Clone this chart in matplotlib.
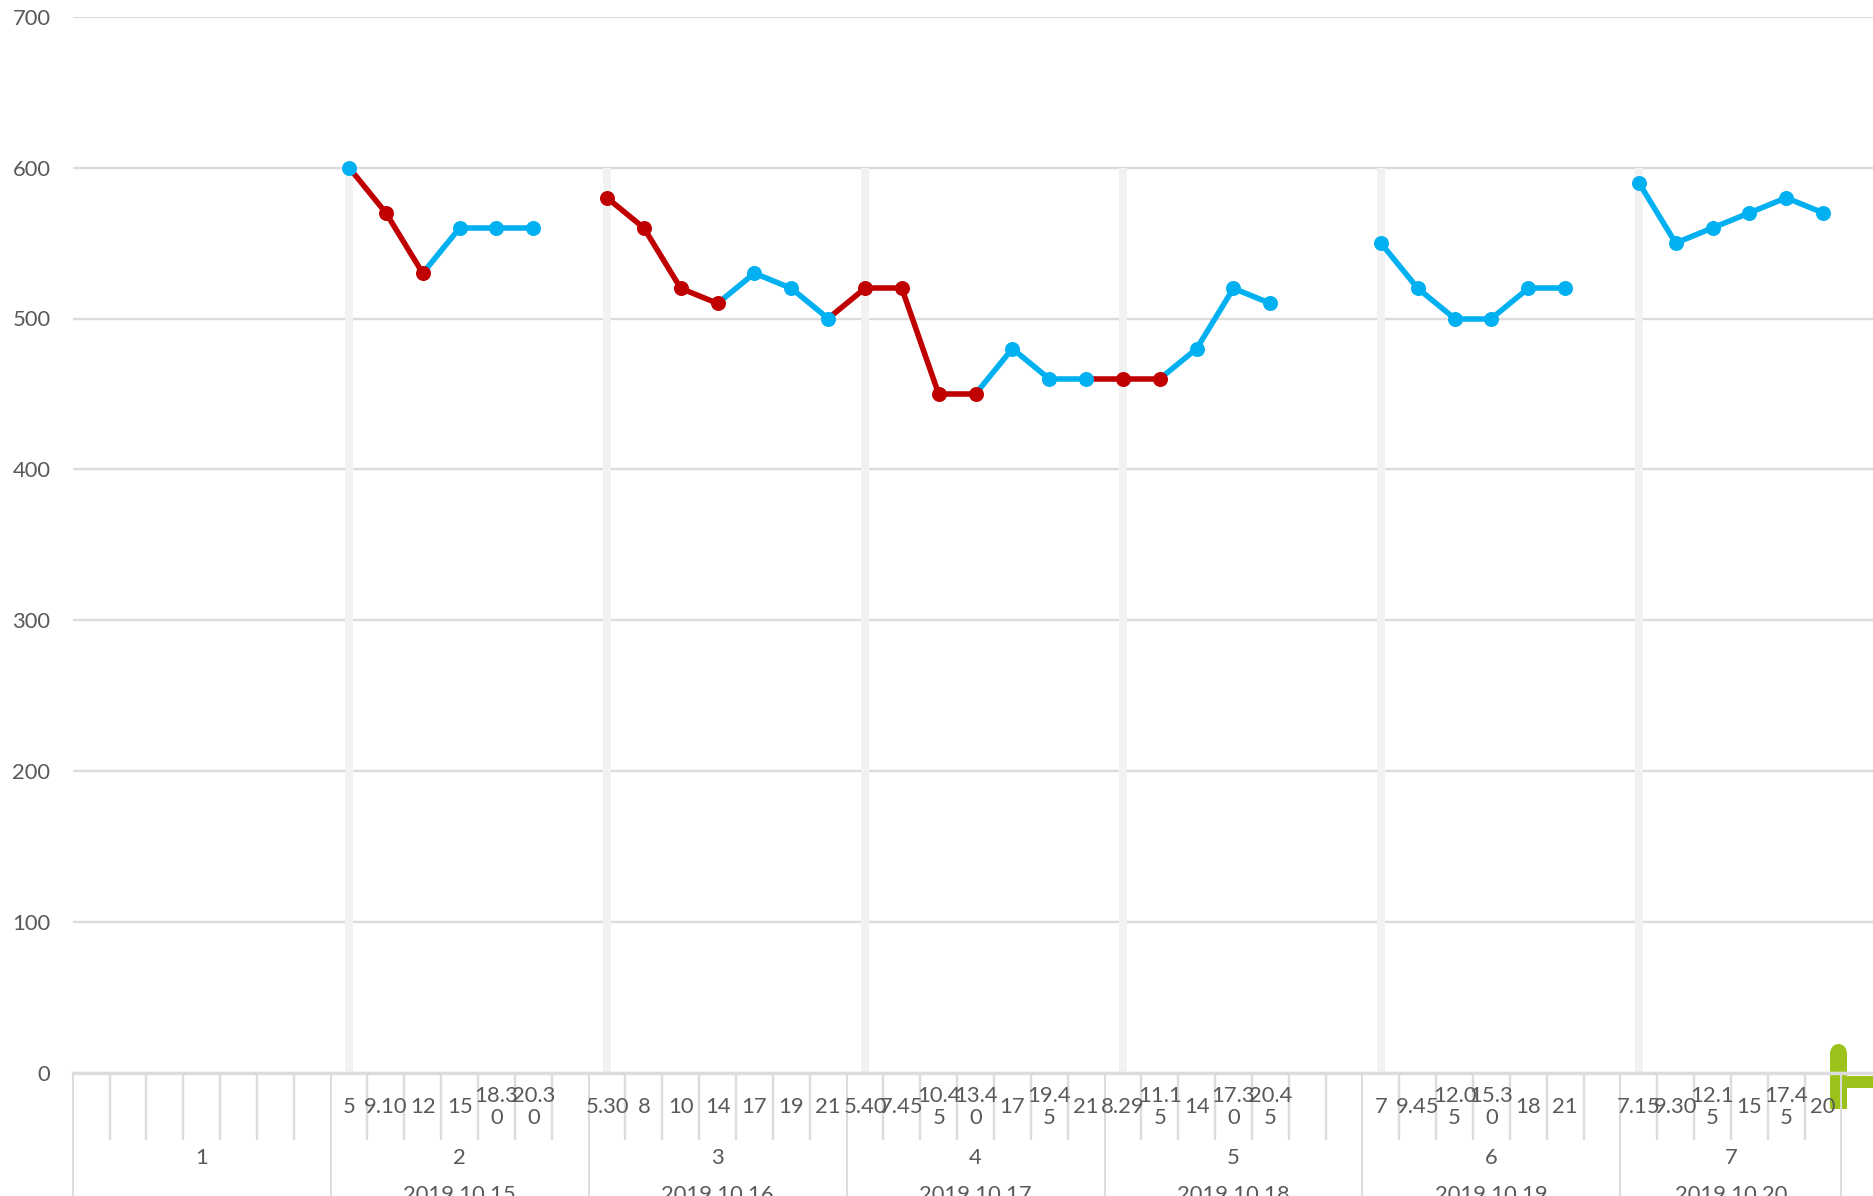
import matplotlib
matplotlib.use("Agg")
import matplotlib.pyplot as plt
import numpy as np
from matplotlib.patches import Circle, Rectangle
from matplotlib.transforms import IdentityTransform

nan = np.nan

# one label per category, "" where nothing was recorded
labels = ["", "", "", "", "", "", "",
          "5", "9.10", "12", "15", "18.30", "20.30", "",
          "5.30", "8", "10", "14", "17", "19", "21",
          "5.40", "7.45", "10.45", "13.40", "17", "19.45", "21",
          "8.29", "11.15", "14", "17.30", "20.45", "", "",
          "7", "9.45", "12.05", "15.30", "18", "21", "",
          "7.15", "9.30", "12.15", "15", "17.45", "20"]
values = [nan, nan, nan, nan, nan, nan, nan,
          600, 570, 530, 560, 560, 560, nan,
          580, 560, 520, 510, 530, 520, 500,
          520, 520, 450, 450, 480, 460, 460,
          460, 460, 480, 520, 510, nan, nan,
          550, 520, 500, 500, 520, 520, nan,
          590, 550, 560, 570, 580, 570]
# r = red point, b = blue point
flags = list("bbbbbbb" "brrbbbb" "rrrrbbb" "rrrrbbb" "rrbbbbb" "bbbbbbb" "bbbbbb")
bands = [nan] * 48
for i in [7, 14, 21, 28, 35, 42]:
    bands[i] = 600

groups = ["1", "2", "3", "4", "5", "6", "7"]
group_sizes = [7, 7, 7, 7, 7, 7, 6]
dates = ["", "2019.10.15", "2019.10.16", "2019.10.17", "2019.10.18", "2019.10.19", "2019.10.20"]
yticks = [0, 100, 200, 300, 400, 500, 600, 700]

W, H = 1873, 1196
GRID = "#dcdcdc"
TEXT = "#595959"
GREEN = "#9BC31C"
colors = {"r": "#C00000", "b": "#00B0F0"}
plt.rcParams["font.family"] = ["Lato", "DejaVu Sans"]
FS = 15.8

fig = plt.figure(figsize=(W / 100, H / 100), dpi=100)
left, y0, y700 = 72.7, 1073, 16.7
ax = fig.add_axes([left / W, (H - y0) / H, (W - left) / W, (y0 - y700) / H])
ax.patch.set_alpha(0)

cat_w = 36.85
ax.set_xlim(-0.5, -0.5 + (W - left) / cat_w)
ax.set_ylim(0, 700)

ax.set_axisbelow(True)
ax.yaxis.grid(True, color=GRID, lw=1.7)
ax.set_yticks(yticks)
ax.tick_params(axis="y", length=0, labelsize=FS, labelcolor=TEXT, pad=16)
for s in ax.spines.values():
    s.set_visible(False)
ax.spines["bottom"].set_visible(True)
ax.spines["bottom"].set_color(GRID)
ax.spines["bottom"].set_linewidth(2.4)

x = np.arange(len(values))
ax.bar(x, bands, width=0.22, color="#f2f2f2", zorder=2)

for i in range(1, len(values)):
    if not (np.isnan(values[i - 1]) or np.isnan(values[i])):
        ax.plot(x[i - 1:i + 1], values[i - 1:i + 1], color=colors[flags[i]], lw=4.0,
                solid_capstyle="round", zorder=3)
for i in range(len(values)):
    if not np.isnan(values[i]):
        ax.plot(x[i], values[i], "o", color=colors[flags[i]], ms=10.8, mew=0, zorder=4)

# category axis: short ticks per category, long ones between the groups
edges = np.cumsum([0] + group_sizes) - 0.5
ax.set_xticks(edges)
ax.set_xticklabels([])
ax.set_xticks(np.arange(-0.5, 48, 1), minor=True)
ax.tick_params(axis="x", which="major", length=125 * 0.72, width=1.4, color=GRID)
ax.tick_params(axis="x", which="minor", length=67 * 0.72, width=1.7, color=GRID)

for i, lab in enumerate(labels):
    if not lab:
        continue
    # long labels wrap in the cell, last character goes to the next line
    txt = lab[:4] + "\n" + lab[4:] if len(lab) > 4 else lab
    ax.annotate(txt, (i, 0), xytext=(0, -34 * 0.72), textcoords="offset points", ha="center",
                va="center", fontsize=FS, color=TEXT, linespacing=1.1, annotation_clip=False)

for k in range(len(groups)):
    c = (edges[k] + edges[k + 1]) / 2
    ax.annotate(groups[k], (c, 0), xytext=(0, -85 * 0.72), textcoords="offset points", ha="center",
                va="center", fontsize=FS, color=TEXT, annotation_clip=False)
    if dates[k]:
        ax.annotate(dates[k], (c, 0), xytext=(0, -122 * 0.72), textcoords="offset points", ha="center",
                    va="center", fontsize=FS, color=TEXT, annotation_clip=False)

# green plus sign cut off by the right edge, sits behind the axis lines
px = IdentityTransform()
for p in [Rectangle((1830.3, H - 1109.3), 16.4, 57.3),
          Circle((1838.5, H - 1052.2), 8.2),
          Rectangle((1846.7, H - 1087.7), 30, 12)]:
    p.set(transform=px, facecolor=GREEN, edgecolor="none", zorder=-1)
    fig.add_artist(p)

fig.savefig("out.png", dpi=100)
